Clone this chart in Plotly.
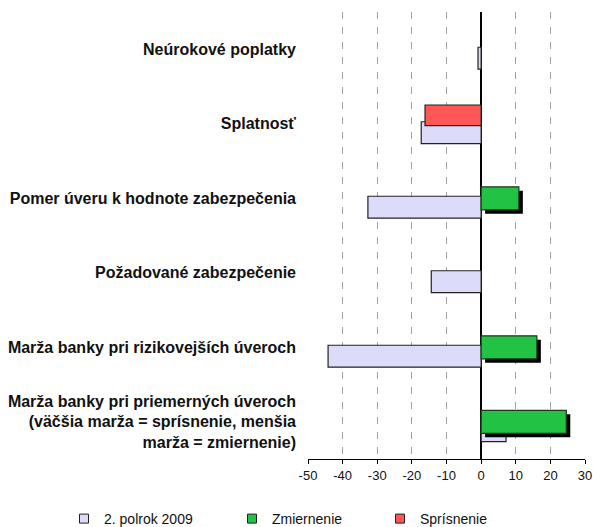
import plotly.graph_objects as go

categories = [
    "Neúrokové poplatky",
    "Splatnosť",
    "Pomer úveru k hodnote zabezpečenia",
    "Požadované zabezpečenie",
    "Marža banky pri rizikovejších úveroch",
    "Marža banky pri priemerných úveroch<br>(väčšia marža = sprísnenie, menšia<br>marža = zmiernenie)",
]
prev_2009 = [-0.9, -17.3, -32.7, -14.4, -44.2, 7.2]
zmiernenie = [None, None, 10.9, None, 16.1, 24.6]
sprisnenie = [None, -16.2, None, None, None, None]
x_ticks = [-50, -40, -30, -20, -10, 0, 10, 20, 30]

FONT = "Liberation Sans, Arial, sans-serif"
LAV = "#dcdcfa"
GREEN = "#22c244"
RED = "#ff5656"
SHADOW_DX = 1.15

W, H = 593, 527

fig = go.Figure()

fig.add_trace(go.Bar(
    y=categories, x=prev_2009, orientation="h", name="2. polrok 2009",
    marker=dict(color=LAV, line=dict(color="#222222", width=1.2)),
    offset=-0.027, width=0.295, showlegend=False,
))
# shadow of green bars
fig.add_trace(go.Bar(
    y=categories, x=zmiernenie, base=SHADOW_DX, orientation="h",
    marker=dict(color="black", line=dict(width=0)),
    offset=-0.10, width=0.309, showlegend=False, hoverinfo="skip",
))
fig.add_trace(go.Bar(
    y=categories, x=zmiernenie, orientation="h", name="Zmiernenie",
    marker=dict(color=GREEN, line=dict(color="#1a3a1a", width=1.2)),
    offset=-0.154, width=0.309, showlegend=False,
))
fig.add_trace(go.Bar(
    y=categories, x=sprisnenie, orientation="h", name="Sprísnenie",
    marker=dict(color=RED, line=dict(color="#222222", width=1.2)),
    offset=-0.252, width=0.278, showlegend=False,
))

# legend entries
for name, col, lg in [("2. polrok 2009", LAV, "legend"),
                      ("Zmiernenie", GREEN, "legend2"),
                      ("Sprísnenie", RED, "legend3")]:
    fig.add_trace(go.Scatter(
        x=[None], y=[None], mode="markers", name=name, legend=lg,
        marker=dict(symbol="square", size=9, color=col,
                    line=dict(color="#222222", width=1)),
    ))

leg_common = dict(orientation="h", xref="container", yref="container",
                  yanchor="top", y=1 - 503 / H, xanchor="left",
                  font=dict(family=FONT, size=14, color="#111111"),
                  bgcolor="rgba(0,0,0,0)", borderwidth=0, itemwidth=30)

fig.update_layout(
    width=W, height=H,
    margin=dict(l=308, r=8, t=12, b=68, autoexpand=False, pad=0),
    paper_bgcolor="white", plot_bgcolor="white",
    barmode="overlay",
    showlegend=True,
    legend=dict(x=64 / W, **leg_common),
    legend2=dict(x=232 / W, **leg_common),
    legend3=dict(x=380 / W, **leg_common),
    xaxis=dict(
        range=[-50, 30], tickvals=x_ticks, ticktext=[str(v) for v in x_ticks],
        automargin=False, ticklabeloverflow="allow",
        showgrid=True, gridcolor="#a0a0a0", gridwidth=1, griddash="7px,8px",
        zeroline=True, zerolinecolor="black", zerolinewidth=1.5,
        showline=True, linecolor="black", linewidth=1,
        ticks="outside", ticklen=4, tickcolor="black",
        tickfont=dict(family=FONT, size=13, color="#111111"),
    ),
    yaxis=dict(
        type="category", categoryorder="array", categoryarray=categories,
        autorange="reversed", showgrid=False, zeroline=False, showline=False,
        automargin=False,
        ticks="", ticklabelstandoff=11,
        tickfont=dict(family=FONT, size=16, color="#111111", weight="bold"),
    ),
)

fig.write_html(
    "out.html",
    config={"displayModeBar": False},
    post_script="document.body.style.margin='0';"
                "document.documentElement.style.overflow='hidden';",
)
